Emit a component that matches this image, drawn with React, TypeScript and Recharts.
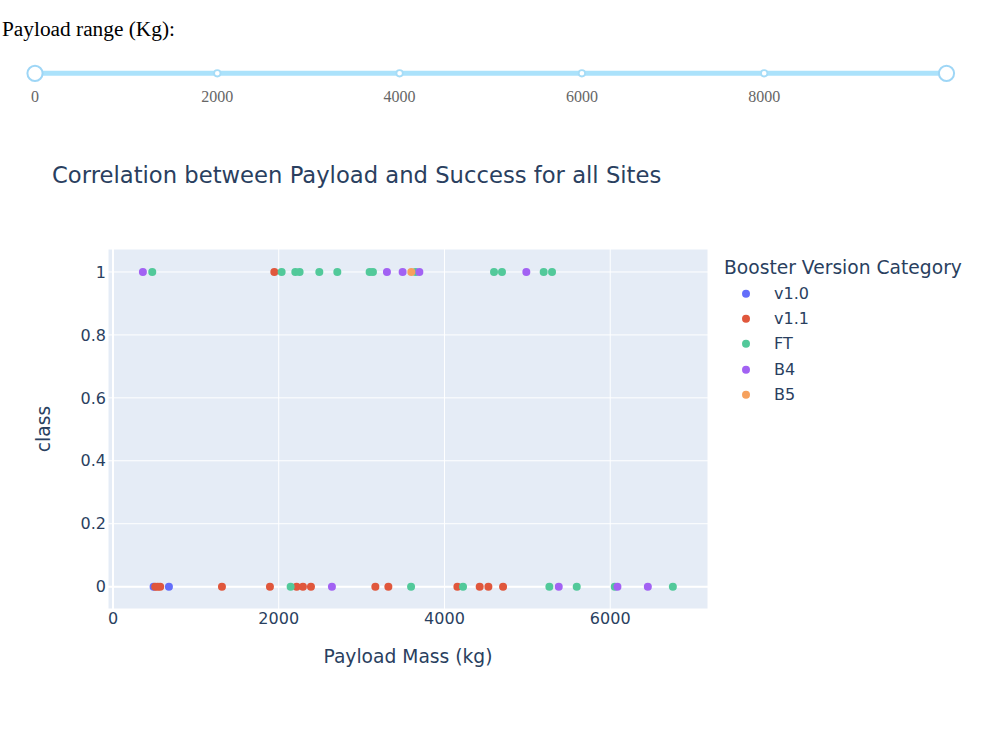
import React from 'react';
import { ScatterChart, Scatter, XAxis, YAxis, CartesianGrid, Legend, ReferenceLine, Label } from 'recharts';

const FONT = '"DejaVu Sans", Verdana, sans-serif';
const TEXT = '#2a3f5f';

const categories = ['v1.0', 'v1.1', 'FT', 'B4', 'B5'];
const colors = ['#636efa', '#e0573c', '#52c99a', '#a262f3', '#f6a15d'];

const v10Payload = [490, 675];
const v10Class = [0, 0];

const v11Payload = [1947, 510, 540, 570, 1315, 1894, 2216, 2292, 2389, 3166, 3323, 4156, 4425, 4530, 4707];
const v11Class = [1, 0, 0, 0, 0, 0, 0, 0, 0, 0, 0, 0, 0, 0, 0];

const ftPayload = [474, 2035, 2200, 2252, 2490, 2707, 3097, 3137, 3652, 4598, 4694, 5197, 5298, 2144, 3597, 4224, 5266, 5596, 6055, 6756];
const ftClass = [1, 1, 1, 1, 1, 1, 1, 1, 1, 1, 1, 1, 1, 0, 0, 0, 0, 0, 0, 0];

const b4Payload = [361, 3306, 3495, 3697, 4988, 2642, 5379, 6087, 6454];
const b4Class = [1, 1, 1, 1, 1, 0, 0, 0, 0];

const b5Payload = [3600];
const b5Class = [1];

const xTicks = [0, 2000, 4000, 6000];
const yTicks = [0, 0.2, 0.4, 0.6, 0.8, 1];
const sliderMarks = [0, 2000, 4000, 6000, 8000];
const sliderMin = 0;
const sliderMax = 10000;

const seriesPayloads = [v10Payload, v11Payload, ftPayload, b4Payload, b5Payload];
const seriesClasses = [v10Class, v11Class, ftClass, b4Class, b5Class];

const series = categories.map((name, i) => ({
  name,
  color: colors[i],
  data: seriesPayloads[i].map((x, j) => ({ x, y: seriesClasses[i][j] })),
}));

const sx = (v: number) => 35 + ((v - sliderMin) / (sliderMax - sliderMin)) * (946.5 - 35);

function Slider() {
  return (
    <svg width={982} height={120} style={{ position: 'absolute', left: 0, top: 0 }}>
      <line x1={sx(sliderMin)} x2={sx(sliderMax)} y1={73.3} y2={73.3} stroke="#abe2fb" strokeWidth={5} />
      {sliderMarks.slice(1).map((m) => (
        <circle key={m} cx={sx(m)} cy={73.3} r={3.2} fill="#fff" stroke="#a6dcf7" strokeWidth={1.8} />
      ))}
      <circle cx={sx(sliderMin)} cy={73.3} r={7.6} fill="#fff" stroke="#9ed6f6" strokeWidth={2} />
      <circle cx={sx(sliderMax)} cy={73.3} r={7.6} fill="#fff" stroke="#9ed6f6" strokeWidth={2} />
      {sliderMarks.map((m) => (
        <text key={'t' + m} x={sx(m)} y={102} textAnchor="middle" fontFamily='"Liberation Serif", serif' fontSize={16} fill="#666">
          {m}
        </text>
      ))}
    </svg>
  );
}

const renderLegend = () => (
  <div style={{ fontFamily: FONT, color: TEXT, width: 260 }}>
    <div style={{ height: 25.3, lineHeight: '25.3px', fontSize: 18.7, paddingLeft: 9, whiteSpace: 'nowrap' }}>
      Booster Version Category
    </div>
    {series.map((s) => (
      <div key={s.name} style={{ height: 25.3, position: 'relative', fontSize: 16, lineHeight: '25.3px' }}>
        <svg width={40} height={25.3} style={{ position: 'absolute', left: 0, top: 0 }}>
          <circle cx={31} cy={12.65} r={4} fill={s.color} />
        </svg>
        <span style={{ position: 'absolute', left: 59, top: 0 }}>{s.name}</span>
      </div>
    ))}
  </div>
);

export default function App() {
  return (
    <div style={{ position: 'fixed', left: 0, top: 0, width: 982, height: 730, background: '#fff', overflow: 'hidden' }}>
      <div
        style={{
          position: 'absolute',
          left: 2,
          top: 19,
          fontFamily: '"Liberation Serif", serif',
          fontSize: 21.33,
          lineHeight: '21.33px',
          color: '#000',
          whiteSpace: 'nowrap',
        }}
      >
        Payload range (Kg):
      </div>
      <Slider />
      <div
        style={{
          position: 'absolute',
          left: 52,
          top: 161,
          fontFamily: FONT,
          fontSize: 22.7,
          lineHeight: '28px',
          color: TEXT,
          whiteSpace: 'nowrap',
        }}
      >
        Correlation between Payload and Success for all Sites
      </div>
      <div style={{ position: 'absolute', left: 0, top: 0 }}>
        <ScatterChart width={982} height={730} margin={{ top: 249, right: 274, bottom: 0, left: 0 }}>
          <CartesianGrid fill="#E5ECF6" stroke="#ffffff" strokeWidth={1} />
          <XAxis
            type="number"
            dataKey="x"
            domain={[-60, 7180]}
            ticks={xTicks}
            allowDataOverflow
            axisLine={false}
            tickLine={false}
            tickSize={0}
            tickMargin={4}
            height={121}
            tick={{ fill: TEXT, fontSize: 16, fontFamily: FONT }}
          >
            <Label
              content={(p: any) => {
                const vb = p.viewBox || {};
                return (
                  <text
                    x={vb.x + vb.width / 2}
                    y={vb.y + 47}
                    textAnchor="middle"
                    dominantBaseline="central"
                    fill={TEXT}
                    fontSize={18.7}
                    fontFamily={FONT}
                  >
                    Payload Mass (kg)
                  </text>
                );
              }}
            />
          </XAxis>
          <YAxis
            type="number"
            dataKey="y"
            domain={[-0.071, 1.073]}
            ticks={yTicks}
            allowDataOverflow
            axisLine={false}
            tickLine={false}
            tickSize={0}
            tickMargin={2}
            width={108}
            tickFormatter={(v: number) => String(Number(v.toFixed(1)))}
            tick={{ fill: TEXT, fontSize: 16, fontFamily: FONT }}
          >
            <Label
              content={(p: any) => {
                const vb = p.viewBox || {};
                const cx = vb.x + 43;
                const cy = vb.y + vb.height / 2;
                return (
                  <text
                    x={cx}
                    y={cy}
                    transform={`rotate(-90 ${cx} ${cy})`}
                    textAnchor="middle"
                    dominantBaseline="central"
                    fill={TEXT}
                    fontSize={18.7}
                    fontFamily={FONT}
                  >
                    class
                  </text>
                );
              }}
            />
          </YAxis>
          <ReferenceLine x={0} stroke="#ffffff" strokeWidth={2} />
          <ReferenceLine y={0} stroke="#ffffff" strokeWidth={2} />
          <Legend
            layout="vertical"
            align="center"
            verticalAlign="middle"
            content={renderLegend}
            wrapperStyle={{ position: 'absolute', left: 715, top: 255.4, width: 260, height: 152 }}
          />
          {series.map((s) => (
            <Scatter
              key={s.name}
              name={s.name}
              data={s.data}
              fill={s.color}
              isAnimationActive={false}
              shape={(p: any) => <circle cx={p.cx} cy={p.cy} r={4} fill={s.color} />}
            />
          ))}
        </ScatterChart>
      </div>
    </div>
  );
}
